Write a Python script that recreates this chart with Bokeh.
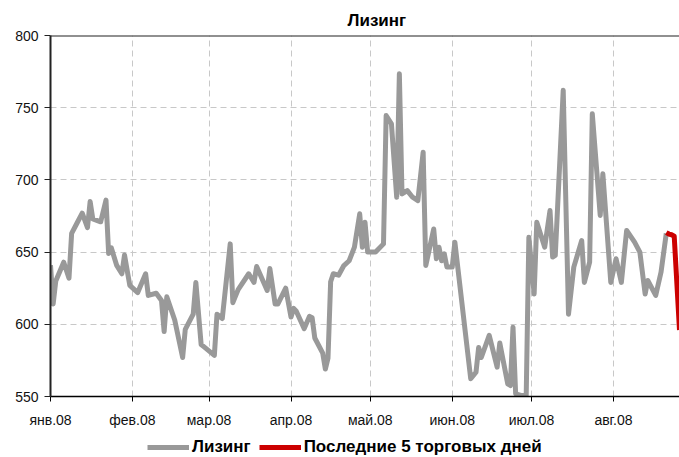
from datetime import datetime
from bokeh.plotting import figure
from bokeh.layouts import column
from bokeh.models import Range1d, FixedTicker, Legend, LegendItem, Span
from bokeh.embed import file_html
from bokeh.resources import INLINE

title_text = "Лизинг"
series_label = "Лизинг"
last_label = "Последние 5 торговых дней"

month_starts = ["2008-01-01", "2008-02-01", "2008-03-01", "2008-04-01",
                "2008-05-01", "2008-06-01", "2008-07-01", "2008-08-01"]
month_labels = ["янв.08", "фев.08", "мар.08", "апр.08",
                "май.08", "июн.08", "июл.08", "авг.08"]
y_ticks = [550, 600, 650, 700, 750, 800]

dates = [
    "2008-01-01", "2008-01-02", "2008-01-03", "2008-01-06", "2008-01-08", "2008-01-09",
    "2008-01-11", "2008-01-13", "2008-01-15", "2008-01-16", "2008-01-17", "2008-01-20",
    "2008-01-22", "2008-01-23", "2008-01-24", "2008-01-26", "2008-01-28", "2008-01-29",
    "2008-01-31", "2008-02-03", "2008-02-06", "2008-02-07", "2008-02-10", "2008-02-12",
    "2008-02-13", "2008-02-14", "2008-02-17", "2008-02-20", "2008-02-21", "2008-02-24",
    "2008-02-25", "2008-02-27", "2008-02-28", "2008-03-03", "2008-03-04", "2008-03-06",
    "2008-03-09", "2008-03-10", "2008-03-12", "2008-03-16", "2008-03-18", "2008-03-19",
    "2008-03-23", "2008-03-24", "2008-03-26", "2008-03-27", "2008-03-30", "2008-04-01",
    "2008-04-02", "2008-04-03", "2008-04-06", "2008-04-08", "2008-04-09", "2008-04-10",
    "2008-04-13", "2008-04-14", "2008-04-15", "2008-04-16", "2008-04-17", "2008-04-19",
    "2008-04-21", "2008-04-23", "2008-04-25", "2008-04-27", "2008-04-28", "2008-04-29",
    "2008-04-30", "2008-05-03", "2008-05-06", "2008-05-07", "2008-05-09", "2008-05-11",
    "2008-05-12", "2008-05-13", "2008-05-15", "2008-05-17", "2008-05-19", "2008-05-21",
    "2008-05-22", "2008-05-25", "2008-05-26", "2008-05-27", "2008-05-28", "2008-05-29",
    "2008-05-30", "2008-06-01", "2008-06-02", "2008-06-08", "2008-06-10", "2008-06-11",
    "2008-06-12", "2008-06-15", "2008-06-18", "2008-06-19", "2008-06-22", "2008-06-23",
    "2008-06-24", "2008-06-25", "2008-06-27", "2008-06-29", "2008-06-30", "2008-07-02",
    "2008-07-03", "2008-07-06", "2008-07-08", "2008-07-09", "2008-07-10", "2008-07-13",
    "2008-07-15", "2008-07-17", "2008-07-20", "2008-07-21", "2008-07-23", "2008-07-24",
    "2008-07-27", "2008-07-28", "2008-07-31", "2008-08-02", "2008-08-04", "2008-08-06",
    "2008-08-09", "2008-08-11", "2008-08-13", "2008-08-14", "2008-08-17", "2008-08-19",
    "2008-08-21",
]
values = [
    641, 614, 630, 643, 632, 663,
    670, 677, 667, 685, 673, 671,
    686, 649, 653, 641, 635, 648,
    627, 622, 635, 620, 621.5, 616.5,
    595, 619, 603, 577, 596.5, 607,
    629, 586, 584.5, 578.5, 607, 604,
    655.7, 615, 624, 635, 629, 640,
    623.4, 638.6, 614, 614, 625, 605,
    611, 609, 597, 605.5, 604.5, 590.5,
    580, 569, 576.5, 629.5, 635, 634,
    640.7, 644, 653.4, 676.5, 653.4, 670.7,
    650, 650, 655.7, 744.6, 738.8, 688,
    773.5, 690.3, 692.6, 688, 685.7, 719.2,
    640.7, 666, 645.4, 653.4, 644, 648.8,
    639.6, 639.6, 656.9, 562.3, 566.8, 584,
    577, 592.3, 570.3, 587, 558.8, 557.6,
    598, 551.9, 550.7, 550.7, 660.3, 621,
    670.7, 653.4, 678.8, 646.6, 647.7, 762,
    607, 639.6, 658, 629, 643, 745.8,
    675.4, 704.2, 629, 645.4, 629, 665,
    656.9, 650, 621, 630.3, 620, 636,
    663,
]
last5_dates = ["2008-08-21", "2008-08-22", "2008-08-23", "2008-08-24", "2008-08-26"]
last5_values = [663.5, 662.5, 662, 661, 596]

GREY = "#999999"
RED = "#cc0000"
FONT = "Liberation Sans"


def d(s):
    return datetime.strptime(s, "%Y-%m-%d")


EPOCH = datetime(1970, 1, 1)


def ms(s):
    return int((d(s) - EPOCH).total_seconds() * 1000)


x_main = [d(s) for s in dates]
x_last = [d(s) for s in last5_dates]
tick_ms = [ms(s) for s in month_starts]

# ---------------- main chart ----------------
p = figure(width=679, height=435, x_axis_type="datetime",
           x_range=Range1d(d("2008-01-01"), d("2008-08-26")),
           y_range=Range1d(550, 800),
           output_backend="svg", toolbar_location=None,
           min_border_left=50, min_border_right=0,
           min_border_top=35, min_border_bottom=39)

p.title.text = title_text
p.title.align = "left"
p.title.offset = 297
p.title.text_font = FONT
p.title.text_font_size = "17px"
p.title.text_font_style = "bold"
p.title.text_color = "#000000"
p.title.standoff = 12

p.background_fill_color = "white"
p.border_fill_color = "white"
p.outline_line_color = None

xa = p.xaxis[0]
xa.ticker = FixedTicker(ticks=tick_ms)
xa.major_label_overrides = {t: lab for t, lab in zip(tick_ms, month_labels)}
xa.major_tick_out = 5
xa.major_tick_in = 0
xa.minor_tick_out = 0
xa.minor_tick_in = 0
xa.axis_line_color = "#000000"
xa.axis_line_width = 1.5
xa.major_tick_line_color = "#000000"
xa.major_label_text_font = FONT
xa.major_label_text_font_size = "14px"
xa.major_label_text_color = "#111111"
xa.major_label_standoff = 10

ya = p.yaxis[0]
ya.ticker = FixedTicker(ticks=y_ticks)
ya.major_tick_out = 6
ya.major_tick_in = 0
ya.minor_tick_out = 0
ya.minor_tick_in = 0
ya.axis_line_color = "#222222"
ya.axis_line_width = 2
ya.major_tick_line_color = "#222222"
ya.major_label_text_font = FONT
ya.major_label_text_font_size = "14px"
ya.major_label_text_color = "#111111"
ya.major_label_standoff = 6

p.xgrid.ticker = FixedTicker(ticks=tick_ms)
p.ygrid.ticker = FixedTicker(ticks=y_ticks)
for g in (p.xgrid[0], p.ygrid[0]):
    g.grid_line_color = "#c8c8c8"
    g.grid_line_dash = "6 4"
    g.grid_line_width = 1

p.add_layout(Span(location=800, dimension="width", line_color="#222222", line_width=2))

p.line(x_main, values, line_color=GREY, line_width=5, line_join="round")
p.line(x_last, last5_values, line_color=RED, line_width=5, line_join="round")

# ---------------- legend strip (frames are aligned by the column) ----------------
lf = figure(width=679, height=22, x_range=Range1d(0, 1), y_range=Range1d(0, 1),
            title=None, x_axis_location=None, y_axis_location=None,
            output_backend="svg", toolbar_location=None,
            min_border=0, min_border_left=0, min_border_right=0,
            min_border_top=0, min_border_bottom=0)
lf.grid.visible = False
lf.outline_line_color = None
lf.background_fill_color = "white"
lf.border_fill_color = "white"
# same series, outside this strip's visible range: used only as legend keys
g1 = lf.line(list(range(len(values))), values, line_color=GREY, line_width=5)
g2 = lf.line(list(range(len(last5_values))), last5_values, line_color=RED, line_width=5)

legend = Legend(items=[LegendItem(label=series_label, renderers=[g1]),
                       LegendItem(label=last_label, renderers=[g2])],
                orientation="horizontal", location=(97, 0),
                glyph_width=42, glyph_height=18, label_height=18,
                label_standoff=3, spacing=8,
                padding=0, margin=0, border_line_color=None,
                background_fill_alpha=0,
                label_text_font=FONT, label_text_font_size="17px",
                label_text_font_style="bold", label_text_color="#000000")
lf.add_layout(legend)

layout = column(p, lf, spacing=0)

open("out.html", "w").write(file_html(layout, INLINE))
